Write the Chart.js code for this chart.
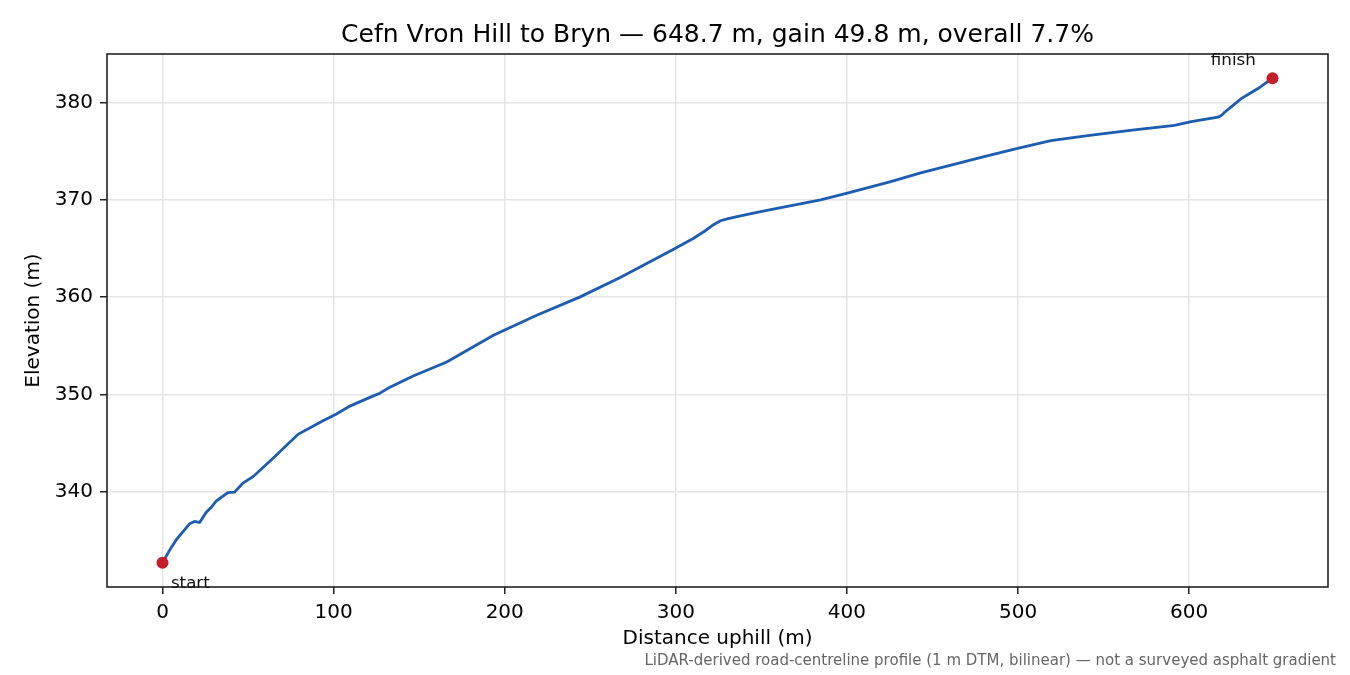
<!DOCTYPE html>
<html>
<head>
<meta charset="utf-8">
<title>Cefn Vron Hill to Bryn</title>
<script src="https://cdn.jsdelivr.net/npm/chart.js@4.4.1/dist/chart.umd.min.js"></script>
<style>
  html, body { margin: 0; padding: 0; background: #fff; }
  #wrap { width: 1350px; height: 675px; }
</style>
</head>
<body>
<div id="wrap"><canvas id="profileChart" width="1350" height="675"></canvas></div>
<script>
// profile, distance in m, elevation in m
const distance = [
  0, 4, 8, 12, 15.8, 18.7, 21.7, 25.6, 28.5, 31.4, 38.2, 42.1, 47, 52.9,
  64.6, 79.2, 93.8, 101.7, 109.5, 121.2, 127, 132.9, 146.5, 166.1, 193.4,
  218.7, 244.1, 267.5, 298.7, 310.4, 317, 322, 326.1, 330, 337.8, 349.5, 384.6,
  400.2, 425.6, 443.1, 480.2, 499.7, 519.2, 540.7, 568, 591.4,
  601.2, 616.8, 619, 620.7, 624.6, 630.4, 634.4, 640.2, 648.7
];
const elevation = [
  332.7, 333.95, 335.05, 335.9, 336.7, 336.95, 336.85, 337.9, 338.4, 339.05, 339.9, 339.95, 340.9, 341.55,
  343.45, 345.9, 347.3, 348.0, 348.8, 349.7, 350.13, 350.75, 351.89, 353.33, 356.08,
  358.14, 360.03, 362.03, 364.92, 366.05, 366.8, 367.45, 367.85, 368.05, 368.35, 368.8, 370.0,
  370.69, 371.88, 372.78, 374.45, 375.3, 376.09, 376.61, 377.19, 377.65,
  378.05, 378.5, 378.7, 379.0, 379.55, 380.4, 380.82, 381.44, 382.5
];

const endpointDistance = [0, 648.7];
const endpointElevation = [332.7, 382.5];
const endpointLabels = ["start", "finish"];

const xTicks = [0, 100, 200, 300, 400, 500, 600];
const yTicks = [340, 350, 360, 370, 380];

const titleText = "Cefn Vron Hill to Bryn \u2014 648.7 m, gain 49.8 m, overall 7.7%";
const noteText = "LiDAR-derived road-centreline profile (1 m DTM, bilinear) \u2014 not a surveyed asphalt gradient";

const FONT = "'DejaVu Sans', 'Liberation Sans', sans-serif";
Chart.defaults.font.family = FONT;
Chart.defaults.color = "#000";

// matplotlib-like 5% margins around the data
const xPad = (648.7 - 0) * 0.05;
const yPad = (382.5 - 332.7) * 0.05;

const decorations = {
  id: "decorations",
  afterDraw(chart) {
    const { ctx, chartArea: a, scales: { x, y } } = chart;
    ctx.save();

    ctx.strokeStyle = "#222";
    ctx.lineWidth = 1.6;
    ctx.strokeRect(a.left, a.top, a.right - a.left, a.bottom - a.top);

    ctx.fillStyle = "#000";
    ctx.font = "25px " + FONT;
    ctx.textAlign = "center";
    ctx.textBaseline = "alphabetic";
    ctx.fillText(titleText, (a.left + a.right) / 2, 42);

    ctx.fillStyle = "#666";
    ctx.font = "15px " + FONT;
    ctx.textAlign = "right";
    ctx.fillText(noteText, 1336, 665);

    ctx.fillStyle = "#111";
    ctx.font = "16.7px " + FONT;
    const sx = x.getPixelForValue(endpointDistance[0]);
    const sy = y.getPixelForValue(endpointElevation[0]);
    ctx.textAlign = "left";
    ctx.fillText(endpointLabels[0], sx + 8.4, sy + 25);

    const fx = x.getPixelForValue(endpointDistance[1]);
    const fy = y.getPixelForValue(endpointElevation[1]);
    ctx.textAlign = "right";
    ctx.fillText(endpointLabels[1], fx - 16.7, fy - 13);

    ctx.restore();
  }
};

new Chart(document.getElementById("profileChart"), {
  type: "line",
  data: {
    datasets: [
      {
        label: "endpoints",
        data: endpointDistance.map((d, i) => ({ x: d, y: endpointElevation[i] })),
        showLine: false,
        pointRadius: 6,
        pointBackgroundColor: "#c41e2a",
        pointBorderColor: "#c41e2a",
        pointBorderWidth: 0
      },
      {
        label: "profile",
        data: distance.map((d, i) => ({ x: d, y: elevation[i] })),
        borderColor: "#1c5cb1",
        borderWidth: 2.8,
        pointRadius: 0,
        tension: 0,
        fill: false
      }
    ]
  },
  options: {
    responsive: false,
    animation: false,
    devicePixelRatio: 1,
    layout: { padding: { top: 54, right: 22, left: 0, bottom: 0 } },
    plugins: {
      legend: { display: false },
      tooltip: { enabled: false },
      title: { display: false }
    },
    scales: {
      x: {
        type: "linear",
        min: 0 - xPad,
        max: 648.7 + xPad,
        afterBuildTicks: scale => { scale.ticks = xTicks.map(v => ({ value: v })); },
        afterFit: scale => { scale.height = 88; },
        grid: {
          color: "#e6e6e6",
          lineWidth: 1.5,
          tickLength: 7,
          tickColor: "#222",
          tickWidth: 1.5
        },
        border: { display: false },
        ticks: {
          font: { size: 20 },
          color: "#000",
          padding: 7,
          maxRotation: 0
        },
        title: {
          display: true,
          text: "Distance uphill (m)",
          font: { size: 20 },
          color: "#000",
          padding: { top: 0, bottom: 24 }
        }
      },
      y: {
        type: "linear",
        min: 332.7 - yPad,
        max: 382.5 + yPad,
        afterBuildTicks: scale => { scale.ticks = yTicks.map(v => ({ value: v })); },
        afterFit: scale => { scale.width = 107; },
        grid: {
          color: "#e6e6e6",
          lineWidth: 1.5,
          tickLength: 7,
          tickColor: "#222",
          tickWidth: 1.5
        },
        border: { display: false },
        ticks: {
          font: { size: 20 },
          color: "#000",
          padding: 7
        },
        title: {
          display: true,
          text: "Elevation (m)",
          font: { size: 20 },
          color: "#000",
          padding: { top: 22, bottom: 0 }
        }
      }
    }
  },
  plugins: [decorations]
});
</script>
</body>
</html>
